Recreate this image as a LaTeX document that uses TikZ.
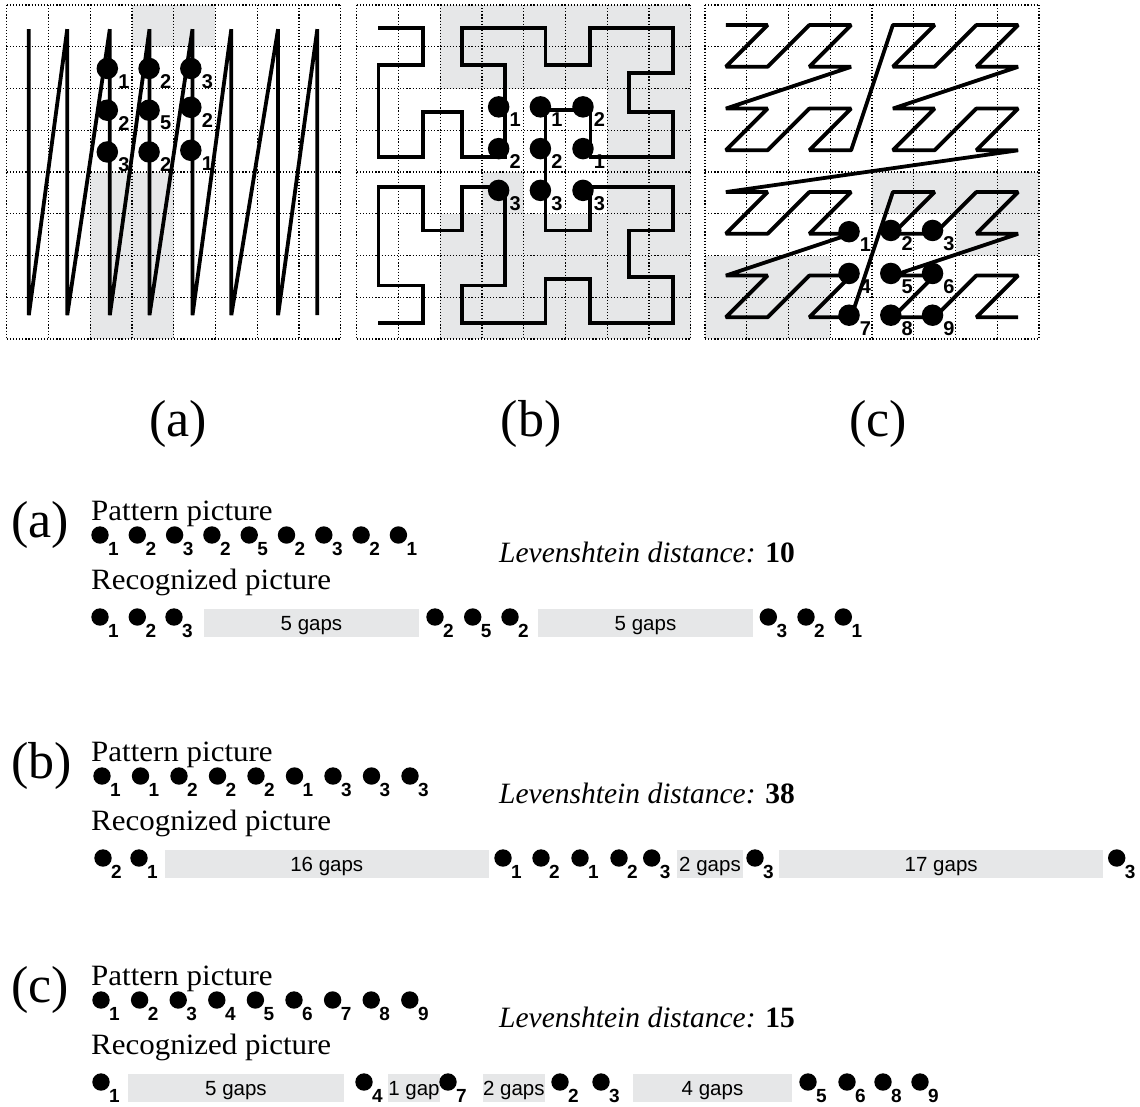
\documentclass[tikz,border=0pt]{standalone}
\usepackage{fontspec}
\setmainfont{Liberation Serif}
\setsansfont{Liberation Sans}
\definecolor{lgrey}{RGB}{230,231,232}
\newcommand\sd[4]{%
  \node[sdot] (#1) at (#2,#3) {};
  \node[sub] (#1n) at ([xshift=8pt,yshift=-20pt]#1.center) {#4};}
\newcommand\gd[4]{%
  \node[gdot] (#1) at (#2,#3) {};
  \node[glab] (#1n) at ([xshift=16.5pt,yshift=-13pt]#1.center) {#4};}
\newcommand\gridlines{%
  \foreach \i in {0,...,8} {\draw[gridline] (\i,0) -- (\i,8); \draw[gridline] (0,\i) -- (8,\i);}}
\begin{document}
\begin{tikzpicture}[x=1pt,y=-1pt,
  gridline/.style={line width=1.2pt, dash pattern=on 1.2pt off 1.9pt},
  curve/.style={line width=3.8pt},
  gdot/.style={circle, fill=black, inner sep=0pt, minimum size=21.5pt},
  glab/.style={font=\fontsize{20}{20}\selectfont\sffamily\bfseries, inner sep=0pt},
  sdot/.style={circle, fill=black, inner sep=0pt, minimum size=17.4pt},
  sub/.style={font=\fontsize{19}{19}\selectfont\sffamily\bfseries, inner sep=0pt, anchor=base west},
  gapbox/.style={fill=lgrey, inner sep=0pt, minimum height=28.5pt, text height=14pt, text depth=0pt,
    font=\fontsize{20.5}{20.5}\selectfont\sffamily},
  caption/.style={font=\fontsize{52}{52}\selectfont, inner sep=0pt, anchor=base},
  title/.style={font=\fontsize{29.5}{29.5}\selectfont, inner sep=0pt, anchor=base west},
]
\useasboundingbox (0,0) rectangle (1140,1106);

% ---------------- grid (a) ----------------
\begin{scope}[shift={(6.7,5)}, x=41.75pt, y=-41.75pt]
  \fill[lgrey] (3,0) rectangle (5,1);
  \fill[lgrey] (2,4) rectangle (4,8);
  \gridlines
  \draw[curve, line join=bevel] (0.53,0.58) -- (0.53,7.43) -- (1.45,0.58) -- (1.45,7.43)
    -- (2.47,0.58) -- (2.47,7.43) -- (3.42,0.58) -- (3.42,7.43) -- (4.45,0.58) -- (4.45,7.43)
    -- (5.38,0.58) -- (5.38,7.43) -- (6.5,0.58) -- (6.5,7.43) -- (7.44,0.58) -- (7.44,7.43);
  \gd{a11}{2.41}{1.52}{1} \gd{a12}{3.41}{1.52}{2} \gd{a13}{4.41}{1.52}{3}
  \gd{a21}{2.41}{2.52}{2} \gd{a22}{3.41}{2.52}{5} \gd{a23}{4.41}{2.45}{2}
  \gd{a31}{2.41}{3.52}{3} \gd{a32}{3.41}{3.52}{2} \gd{a33}{4.41}{3.48}{1}
\end{scope}

% ---------------- grid (b) ----------------
\begin{scope}[shift={(356.7,5)}, x=41.75pt, y=-41.75pt]
  \fill[lgrey] (2,0) rectangle (8,2);
  \fill[lgrey] (6,2) rectangle (8,8);
  \fill[lgrey] (2,5) rectangle (8,8);
  \fill[lgrey] (3,4) rectangle (4,5);
  \gridlines
  \draw[curve, line join=miter]
    (0.52,0.56) -- (1.58,0.56) -- (1.58,1.44) -- (0.52,1.44) -- (0.52,3.64) -- (1.58,3.64)
    -- (1.58,2.56) -- (2.52,2.56) -- (2.52,3.64) -- (3.56,3.64) -- (3.56,1.44) -- (2.52,1.44)
    -- (2.52,0.56) -- (4.52,0.56) -- (4.52,1.44) -- (5.58,1.44) -- (5.58,0.56) -- (7.58,0.56)
    -- (7.58,1.62) -- (6.52,1.62) -- (6.52,2.56) -- (7.58,2.56) -- (7.58,3.64) -- (5.6,3.64)
    -- (5.6,2.52) -- (4.52,2.52) -- (4.52,5.4) -- (5.58,5.4) -- (5.58,4.36) -- (7.58,4.36)
    -- (7.58,5.4) -- (6.52,5.4) -- (6.52,6.52) -- (7.58,6.52) -- (7.58,7.62) -- (5.58,7.62)
    -- (5.58,6.56) -- (4.52,6.56) -- (4.52,7.62) -- (2.52,7.62) -- (2.52,6.72) -- (3.56,6.72)
    -- (3.56,4.36) -- (2.52,4.36) -- (2.52,5.4) -- (1.58,5.4) -- (1.58,4.36) -- (0.52,4.36)
    -- (0.52,6.72) -- (1.58,6.72) -- (1.58,7.62) -- (0.52,7.62);
  \gd{b11}{3.4}{2.44}{1} \gd{b12}{4.4}{2.44}{1} \gd{b13}{5.42}{2.44}{2}
  \gd{b21}{3.4}{3.44}{2} \gd{b22}{4.4}{3.44}{2} \gd{b23}{5.42}{3.44}{1}
  \gd{b31}{3.4}{4.44}{3} \gd{b32}{4.4}{4.44}{3} \gd{b33}{5.42}{4.44}{3}
\end{scope}

% ---------------- grid (c) ----------------
\begin{scope}[shift={(705,5)}, x=41.75pt, y=-41.75pt]
  \fill[lgrey] (4,4) rectangle (8,5);
  \fill[lgrey] (6,5) rectangle (8,6);
  \fill[lgrey] (0,6) rectangle (3,8);
  \gridlines
  \begin{scope}[shift={(0.5,0.48)}]
  \draw[curve, line join=bevel]
    (0,0) -- (1,0) -- (0,1) -- (1,1) -- (2,0) -- (3,0) -- (2,1) -- (3,1)
    -- (0,2) -- (1,2) -- (0,3) -- (1,3) -- (2,2) -- (3,2) -- (2,3) -- (3,3)
    -- (4,0) -- (5,0) -- (4,1) -- (5,1) -- (6,0) -- (7,0) -- (6,1) -- (7,1)
    -- (4,2) -- (5,2) -- (4,3) -- (5,3) -- (6,2) -- (7,2) -- (6,3) -- (7,3)
    -- (0,4) -- (1,4) -- (0,5) -- (1,5) -- (2,4) -- (3,4) -- (2,5) -- (3,5)
    -- (0,6) -- (1,6) -- (0,7) -- (1,7) -- (2,6) -- (3,6) -- (2,7) -- (3,7)
    -- (4,4) -- (5,4) -- (4,5) -- (5,5) -- (6,4) -- (7,4) -- (6,5) -- (7,5)
    -- (4,6) -- (5,6) -- (4,7) -- (5,7) -- (6,6) -- (7,6) -- (6,7) -- (7,7);
  \gd{c1}{2.95}{4.95}{1} \gd{c2}{3.95}{4.92}{2} \gd{c3}{4.95}{4.92}{3}
  \gd{c4}{2.95}{5.95}{4} \gd{c5}{3.95}{5.95}{5} \gd{c6}{4.95}{5.95}{6}
  \gd{c7}{2.95}{6.95}{7} \gd{c8}{3.95}{6.95}{8} \gd{c9}{4.95}{6.95}{9}
  \end{scope}
\end{scope}

% ---------------- captions ----------------
\node[caption] (capa) at (178,436) {(a)};
\node[caption] (capb) at (531,436) {(b)};
\node[caption] (capc) at (878,436) {(c)};

% ---------------- block (a) ----------------
\node[caption, anchor=base west] (laba) at (11,537) {(a)};
\node[title] (pata) at (91,520.5) {\scalebox{1.05}[1]{Pattern picture}};
\node[title] (reca) at (91,589) {\scalebox{1.05}[1]{Recognized picture}};
\node[title] (leva) at (499,562) {\textit{Levenshtein distance:} \textbf{10}};
\foreach \d [count=\k from 0] in {1,2,3,2,5,2,3,2,1} {\sd{pa\k}{100+37.3*\k}{535}{\d}}
\sd{ra1}{100}{617}{1} \sd{ra2}{137.3}{617}{2} \sd{ra3}{174}{617}{3}
\node[gapbox, minimum width=215pt] (ga1) at (311.5,623) {5 gaps};
\sd{ra4}{435}{617}{2} \sd{ra5}{472.7}{617}{5} \sd{ra6}{510}{617}{2}
\node[gapbox, minimum width=215pt] (ga2) at (645.5,623) {5 gaps};
\sd{ra7}{768.3}{617}{3} \sd{ra8}{806}{617}{2} \sd{ra9}{843.3}{617}{1}

% ---------------- block (b) ----------------
\node[caption, anchor=base west] (labb) at (11,778) {(b)};
\node[title] (patb) at (91,761.5) {\scalebox{1.05}[1]{Pattern picture}};
\node[title] (recb) at (91,830) {\scalebox{1.05}[1]{Recognized picture}};
\node[title] (levb) at (499,803) {\textit{Levenshtein distance:} \textbf{38}};
\foreach \d [count=\k from 0] in {1,1,2,2,2,1,3,3,3} {\sd{pb\k}{102+38.5*\k}{776}{\d}}
\sd{rb1}{103}{858}{2} \sd{rb2}{139}{858}{1}
\node[gapbox, minimum width=324.4pt] (gb1) at (326.8,864) {16 gaps};
\sd{rb3}{503}{858}{1} \sd{rb4}{541}{858}{2} \sd{rb5}{580}{858}{1} \sd{rb6}{619}{858}{2} \sd{rb7}{651.7}{858}{3}
\node[gapbox, minimum width=66.6pt] (gb2) at (710,864) {2 gaps};
\sd{rb8}{755}{858}{3}
\node[gapbox, minimum width=324.3pt] (gb3) at (941.2,864) {17 gaps};
\sd{rb9}{1116.7}{858}{3}

% ---------------- block (c) ----------------
\node[caption, anchor=base west] (labc) at (11,1002) {(c)};
\node[title] (patc) at (91,985.5) {\scalebox{1.05}[1]{Pattern picture}};
\node[title] (recc) at (91,1054) {\scalebox{1.05}[1]{Recognized picture}};
\node[title] (levc) at (499,1027) {\textit{Levenshtein distance:} \textbf{15}};
\foreach \d [count=\k from 0] in {1,2,3,4,5,6,7,8,9} {\sd{pc\k}{101+38.6*\k}{1000}{\d}}
\sd{rc1}{101}{1082}{1}
\node[gapbox, minimum width=216pt] (gc1) at (236,1088) {5 gaps};
\sd{rc2}{364}{1082}{4}
\node[gapbox, minimum width=46pt] (gc2) at (414,1088) {1 gap};
\sd{rc3}{448}{1082}{7}
\node[gapbox, minimum width=60.4pt] (gc3) at (513.8,1088) {2 gaps};
\sd{rc4}{560}{1082}{2} \sd{rc5}{601}{1082}{3}
\node[gapbox, minimum width=159pt] (gc4) at (712.5,1088) {4 gaps};
\sd{rc6}{808}{1082}{5} \sd{rc7}{847}{1082}{6} \sd{rc8}{883}{1082}{8} \sd{rc9}{920}{1082}{9}
\end{tikzpicture}
\end{document}
